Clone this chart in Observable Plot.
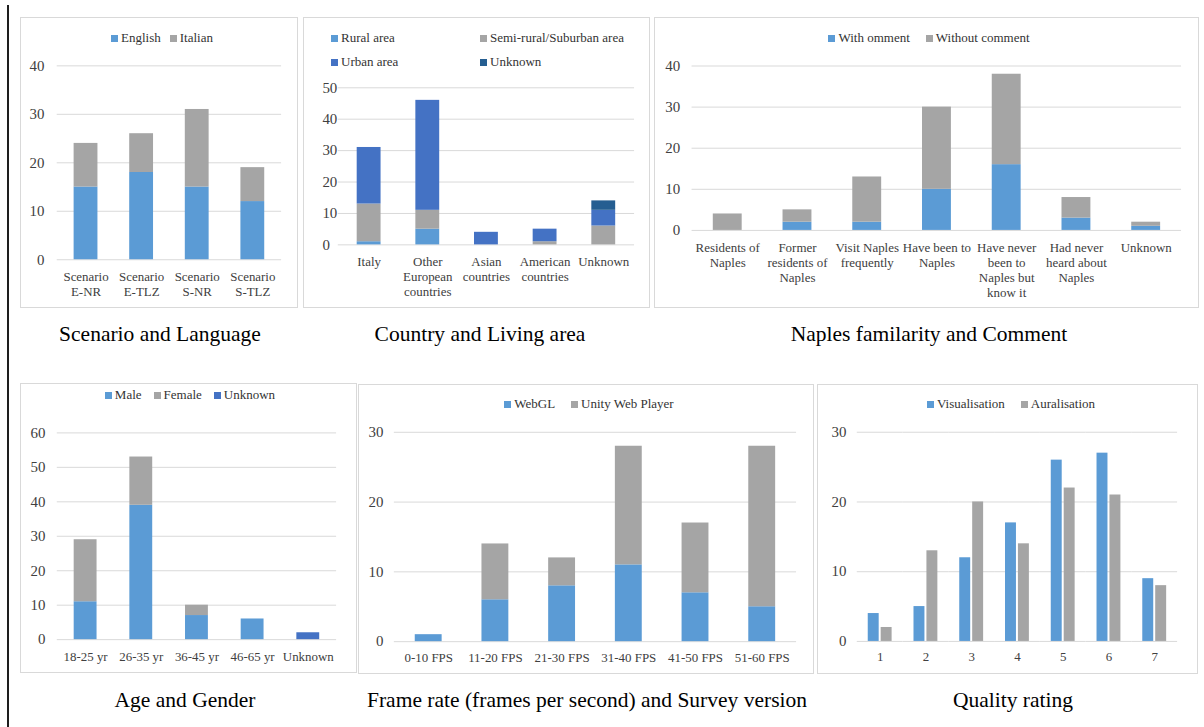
<!DOCTYPE html>
<html>
<head>
<meta charset="utf-8">
<script src="https://cdn.jsdelivr.net/npm/d3@7"></script>
<script src="https://cdn.jsdelivr.net/npm/@observablehq/plot@0.6"></script>
<style>
  body { margin: 0; background: #fff; }
  #page { position: relative; width: 1204px; height: 727px; overflow: hidden;
          font-family: "Liberation Serif", "Times New Roman", serif; background: #fff; }
  #rule { position: absolute; left: 7px; top: 5px; width: 2px; height: 722px; background: #1e1e1e; }
  .panel { position: absolute; border: 1px solid #d9d9d9; box-sizing: border-box; }
  .panel svg { position: absolute; left: -1px; top: -1px; }
  .legend { position: absolute; display: flex; justify-content: center; align-items: center;
            height: 14px; font-size: 13px; line-height: 14px; color: #333; white-space: nowrap; }
  .legend-grid { position: absolute; display: grid; grid-template-columns: 149px 149px;
                 grid-auto-rows: 14px; row-gap: 10px; font-size: 13px; line-height: 14px; color: #333; }
  .item { display: flex; align-items: center; white-space: nowrap; }
  .sw { width: 7px; height: 7px; margin-right: 3px; display: inline-block; }
  .title { position: absolute; font-size: 21.5px; line-height: 21px; color: #000; white-space: nowrap;
           transform: translateX(-50%); }
</style>
</head>
<body>
<div id="page"><div id="rule"></div></div>
<script>
// ---------- palette ----------
const blue = "#5B9BD5", grey = "#A5A5A5", darkBlue = "#4472C4", navy = "#255E91";
const ink = "#404040";

// ---------- Scenario and Language ----------
const scenarioCats = ["Scenario\nE-NR", "Scenario\nE-TLZ", "Scenario\nS-NR", "Scenario\nS-TLZ"];
const languageSeries = ["English", "Italian"];
const englishCounts = [15, 18, 15, 12];
const italianCounts = [9, 8, 16, 7];
const scenarioTicks = [0, 10, 20, 30, 40];

// ---------- Country and Living area ----------
const countryCats = ["Italy", "Other\nEuropean\ncountries", "Asian\ncountries", "American\ncountries", "Unknown"];
const areaSeries = ["Rural area", "Semi-rural/Suburban area", "Urban area", "Unknown"];
const ruralCounts = [1, 5, 0, 0, 0];
const semiCounts = [12, 6, 0, 1, 6];
const urbanCounts = [18, 35, 4, 4, 5];
const areaUnknownCounts = [0, 0, 0, 0, 3];
const countryTicks = [0, 10, 20, 30, 40, 50];

// ---------- Naples familarity and Comment ----------
const naplesCats = ["Residents of\nNaples", "Former\nresidents of\nNaples", "Visit Naples\nfrequently",
  "Have been to\nNaples", "Have never\nbeen to\nNaples but\nknow it", "Had never\nheard about\nNaples", "Unknown"];
const commentSeries = ["With omment", "Without comment"];
const withCommentCounts = [0, 2, 2, 10, 16, 3, 1];
const withoutCommentCounts = [4, 3, 11, 20, 22, 5, 1];
const naplesTicks = [0, 10, 20, 30, 40];

// ---------- Age and Gender ----------
const ageCats = ["18-25 yr", "26-35 yr", "36-45 yr", "46-65 yr", "Unknown"];
const genderSeries = ["Male", "Female", "Unknown"];
const maleCounts = [11, 39, 7, 6, 0];
const femaleCounts = [18, 14, 3, 0, 0];
const genderUnknownCounts = [0, 0, 0, 0, 2];
const ageTicks = [0, 10, 20, 30, 40, 50, 60];

// ---------- Frame rate and Survey version ----------
const fpsCats = ["0-10 FPS", "11-20 FPS", "21-30 FPS", "31-40 FPS", "41-50 FPS", "51-60 FPS"];
const versionSeries = ["WebGL", "Unity Web Player"];
const webglCounts = [1, 6, 8, 11, 7, 5];
const unityCounts = [0, 8, 4, 17, 10, 23];
const fpsTicks = [0, 10, 20, 30];

// ---------- Quality rating ----------
const ratings = [1, 2, 3, 4, 5, 6, 7];
const qualitySeries = ["Visualisation", "Auralisation"];
const visualisationCounts = [4, 5, 12, 17, 26, 27, 9];
const auralisationCounts = [2, 13, 20, 14, 22, 21, 8];
const qualityTicks = [0, 10, 20, 30];

// ---------- helpers ----------
const page = document.getElementById("page");
const font = "Liberation Serif, Times New Roman, serif";

function longRows(cats, series, valueLists, key = "cat") {
  return series.flatMap((s, i) => cats.map((c, j) => ({[key]: c, series: s, value: valueLists[i][j]})));
}

function addPanel(box, svg) {
  const div = document.createElement("div");
  div.className = "panel";
  Object.assign(div.style, {left: box.x + "px", top: box.y + "px", width: box.w + "px", height: box.h + "px"});
  div.appendChild(svg);
  page.appendChild(div);
}

function addLegend(series, colors, cx, cy, gap) {
  const el = document.createElement("div");
  el.className = "legend";
  Object.assign(el.style, {left: (cx - 250) + "px", width: "500px", top: (cy - 7) + "px", gap: gap + "px"});
  series.forEach((s, i) => {
    const it = document.createElement("span");
    it.className = "item";
    it.innerHTML = `<span class="sw" style="background:${colors[i]}"></span>${s}`;
    el.appendChild(it);
  });
  page.appendChild(el);
}

function addTitle(text, cx, top) {
  const el = document.createElement("div");
  el.className = "title";
  el.textContent = text;
  Object.assign(el.style, {left: cx + "px", top: top + "px"});
  page.appendChild(el);
}

function stacked({cats, series, colors, values, ticks, box, m, pad, yPad, xPad, yAnchor}) {
  const rows = longRows(cats, series, values);
  const svg = Plot.plot({
    width: box.w, height: box.h,
    marginLeft: m[0], marginRight: m[1], marginTop: m[2], marginBottom: m[3],
    style: {background: "transparent", fontFamily: font, color: ink, overflow: "visible"},
    x: {domain: cats, paddingInner: pad, paddingOuter: pad / 2, label: null},
    y: {domain: [0, ticks[ticks.length - 1]], label: null},
    color: {domain: series, range: colors},
    marks: [
      Plot.gridY(ticks, {stroke: "#d9d9d9", strokeOpacity: 1}),
      Plot.barY(rows, {x: "cat", y: "value", fill: "series"}),
      Plot.axisY(ticks, {tickSize: 0, tickPadding: yPad, fontSize: 15, label: null,
                         textAnchor: yAnchor || "end", fill: ink}),
      Plot.axisX({tickSize: 0, tickPadding: xPad, fontSize: 13, lineHeight: 1.15, label: null, fill: ink})
    ]
  });
  addPanel(box, svg);
}

// Scenario and Language
stacked({
  cats: scenarioCats, series: languageSeries, colors: [blue, grey],
  values: [englishCounts, italianCounts], ticks: scenarioTicks,
  box: {x: 20, y: 17, w: 278, h: 291}, m: [37, 15, 48.7, 47], pad: 0.58, yPad: 13, xPad: 11
});
addLegend(languageSeries, [blue, grey], 162, 38, 9);
addTitle("Scenario and Language", 160, 324);

// Country and Living area
stacked({
  cats: countryCats, series: areaSeries, colors: [blue, grey, darkBlue, navy],
  values: [ruralCounts, semiCounts, urbanCounts, areaUnknownCounts], ticks: countryTicks,
  box: {x: 303, y: 17, w: 347, h: 291}, m: [35, 14, 70.7, 62.3], pad: 0.6, yPad: 16, xPad: 11, yAnchor: "start"
});
{
  const el = document.createElement("div");
  el.className = "legend-grid";
  Object.assign(el.style, {left: "331px", top: "31px"});
  const areaColors = [blue, grey, darkBlue, navy];
  areaSeries.forEach((s, i) => {
    const it = document.createElement("span");
    it.className = "item";
    it.innerHTML = `<span class="sw" style="background:${areaColors[i]}"></span>${s}`;
    el.appendChild(it);
  });
  page.appendChild(el);
}
addTitle("Country and Living area", 480, 324);

// Naples familarity and Comment
stacked({
  cats: naplesCats, series: commentSeries, colors: [blue, grey],
  values: [withCommentCounts, withoutCommentCounts], ticks: naplesTicks,
  box: {x: 654, y: 17, w: 545, h: 291}, m: [37.7, 16, 48.7, 77.3], pad: 0.58, yPad: 12, xPad: 11
});
addLegend(commentSeries, [blue, grey], 929, 38, 16);
addTitle("Naples familarity and Comment", 929, 324);

// Age and Gender
stacked({
  cats: ageCats, series: genderSeries, colors: [blue, grey, darkBlue],
  values: [maleCounts, femaleCounts, genderUnknownCounts], ticks: ageTicks,
  box: {x: 20, y: 383, w: 337, h: 290}, m: [37, 19, 49.7, 32.3], pad: 0.59, yPad: 12, xPad: 11
});
addLegend(genderSeries, [blue, grey, darkBlue], 190, 395, 12);
addTitle("Age and Gender", 185, 689.5);

// Frame rate and Survey version
stacked({
  cats: fpsCats, series: versionSeries, colors: [blue, grey],
  values: [webglCounts, unityCounts], ticks: fpsTicks,
  box: {x: 358, y: 384, w: 456, h: 290}, m: [36, 16, 48, 31.7], pad: 0.6, yPad: 11, xPad: 10
});
addLegend(versionSeries, [blue, grey], 589, 404, 16);
addTitle("Frame rate (frames per second) and Survey version", 587, 689.5);

// Quality rating: grouped bars, one facet per rating
{
  const rows = longRows(ratings, qualitySeries, [visualisationCounts, auralisationCounts], "rating");
  const box = {x: 817, y: 384, w: 381, h: 290};
  const svg = Plot.plot({
    width: box.w, height: box.h,
    marginLeft: 37, marginRight: 16, marginTop: 48, marginBottom: 31.7,
    style: {background: "transparent", fontFamily: font, color: ink, overflow: "visible"},
    fx: {domain: ratings, padding: 0, label: null},
    x: {domain: qualitySeries, paddingInner: 0.185, paddingOuter: 0.83, axis: null},
    y: {domain: [0, 30], label: null},
    color: {domain: qualitySeries, range: [blue, grey]},
    marks: [
      Plot.gridY(qualityTicks, {stroke: "#d9d9d9", strokeOpacity: 1}),
      Plot.barY(rows, {fx: "rating", x: "series", y: "value", fill: "series"}),
      Plot.axisY(qualityTicks, {tickSize: 0, tickPadding: 11, fontSize: 15, label: null, fill: ink}),
      Plot.axisFx({anchor: "bottom", tickSize: 0, tickPadding: 10, fontSize: 13, label: null, fill: ink})
    ]
  });
  addPanel(box, svg);
}
addLegend(qualitySeries, [blue, grey], 1011, 404, 16);
addTitle("Quality rating", 1013, 689.5);
</script>
</body>
</html>
